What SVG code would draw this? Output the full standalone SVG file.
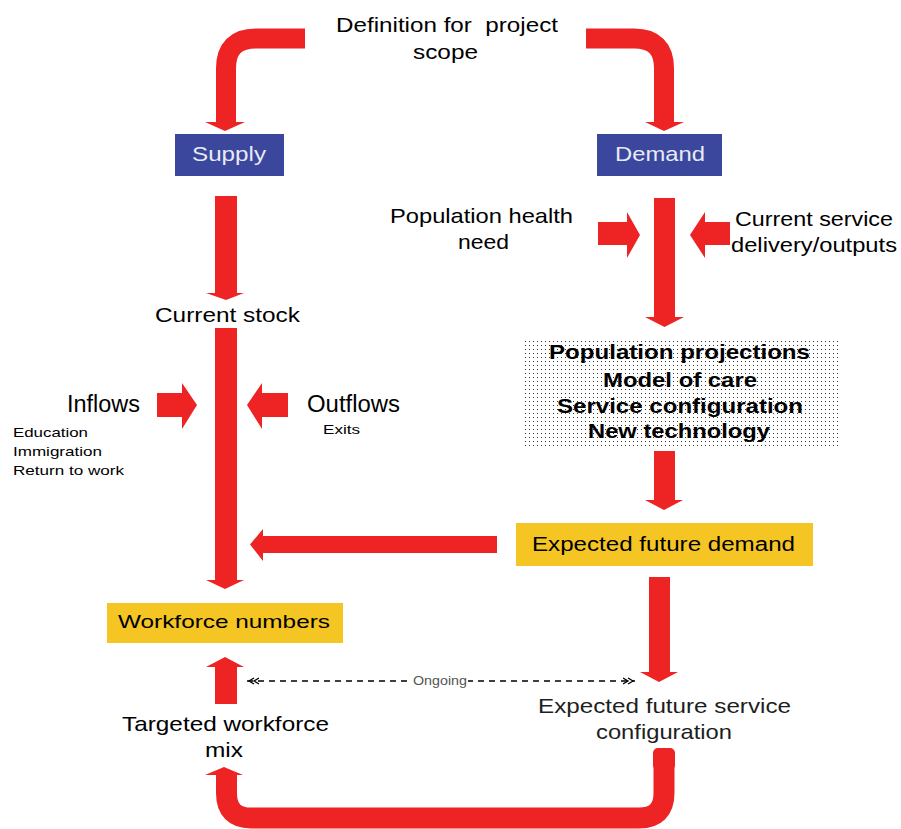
<svg xmlns="http://www.w3.org/2000/svg" width="901" height="829" viewBox="0 0 901 829">
<style>
text{font-family:"Liberation Sans",Arial,sans-serif;fill:#000}
.t{font-size:21px}
.b{font-size:21px;font-weight:bold}
.s{font-size:13px}
.w{fill:#e8eaf4}
.g{fill:#1e1e1e}
.red{fill:#ee2324}
.band{fill:none;stroke:#ee2324;stroke-width:20}
.blue{fill:#3b479c}
.yel{fill:#f5c623}
</style>
<defs>
<pattern id="dots" width="4" height="4" patternUnits="userSpaceOnUse">
<rect width="4" height="4" fill="#fff"/>
<rect x="1" y="1" width="1" height="1" fill="#333"/>
</pattern>
<marker id="dbl" viewBox="0 0 12 8" refX="12" refY="4" markerWidth="12" markerHeight="8" orient="auto-start-reverse" markerUnits="userSpaceOnUse">
<path d="M0,1 L5,4 L0,7 M5,1 L10,4 L5,7" fill="none" stroke="#000" stroke-width="1.3"/>
</marker>
</defs>
<rect width="901" height="829" fill="#fff"/>

<g id="connectors">
<path class="band" d="M305,38.5 L256,38.5 Q226,38.5 226,68.5 L226,122"/>
<polygon class="red" points="205,122 245,122 225,131"/>
<path class="band" d="M586,38.5 L634,38.5 Q664,38.5 664,68.5 L664,122"/>
<polygon class="red" points="645,122 684,122 664,131"/>
<path class="red" d="M215,196 H237 V293 H244 L226,300 L206,293 H215 Z"/>
<path class="red" d="M215,328 H237 V580 H244 L225,589 L206,580 H215 Z"/>
<path class="red" d="M654,198 H675 V317 H684 L664.5,327 L645,317 H654 Z"/>
<path class="red" d="M654,451 H675 V500 H683 L664,510 L645,500 H654 Z"/>
<path class="red" d="M649,577 H670 V672 H678 L659,682 L640,672 H649 Z"/>
<path class="red" d="M215,704 H237 V667 H244 L225,657 L206,667 H215 Z"/>
<path class="red" d="M598,222 H627 V212 L640,235 L627,258 V245 H598 Z"/>
<path class="red" d="M730,222 H705 V212 L690,235 L705,258 V245 H730 Z"/>
<path class="red" d="M157,393 H182 V383 L197,405 L182,429 V417 H157 Z"/>
<path class="red" d="M288,393 H262 V383 L247,405 L262,429 V417 H288 Z"/>
<path class="red" d="M497,536 H263 V529 L250,544.5 L263,561 V553 H497 Z"/>
<path class="band" style="stroke-width:21" d="M664,758 L664,793 Q664,818 639,818 L251,818 Q226.5,818 226.5,793 L226.5,775"/>
<rect class="red" x="653" y="748" width="22" height="22" rx="5"/>
<polygon class="red" points="205,775 243,775 224,767"/>
<line x1="247" y1="681" x2="635" y2="681" stroke="#000" stroke-width="1.4" stroke-dasharray="6,5" marker-start="url(#dbl)" marker-end="url(#dbl)"/>
<rect x="412" y="673" width="56" height="14" fill="#fff"/>
<text x="413" y="685" font-size="13" style="fill:#555" textLength="54" lengthAdjust="spacingAndGlyphs">Ongoing</text>
</g>

<g id="title">
<text class="t" x="336" y="32" style="white-space:pre" textLength="222" lengthAdjust="spacingAndGlyphs">Definition for  project</text>
<text class="t" x="413" y="59" textLength="65" lengthAdjust="spacingAndGlyphs">scope</text>
</g>

<g id="supply">
<rect class="blue" x="175" y="134" width="109" height="42"/>
<text class="t w" x="192" y="161" textLength="74" lengthAdjust="spacingAndGlyphs">Supply</text>
</g>

<g id="demand">
<rect class="blue" x="597" y="134" width="125" height="42"/>
<text class="t w" x="615" y="161" textLength="90" lengthAdjust="spacingAndGlyphs">Demand</text>
</g>

<g id="current-stock">
<text class="t" x="155" y="322" textLength="145" lengthAdjust="spacingAndGlyphs">Current stock</text>
</g>

<g id="population-health">
<text class="t" x="390" y="223" textLength="183" lengthAdjust="spacingAndGlyphs">Population health</text>
<text class="t" x="458" y="249" textLength="51" lengthAdjust="spacingAndGlyphs">need</text>
</g>

<g id="current-service">
<text class="t" x="735" y="226" textLength="158" lengthAdjust="spacingAndGlyphs">Current service</text>
<text class="t" x="731" y="252" textLength="166" lengthAdjust="spacingAndGlyphs">delivery/outputs</text>
</g>

<g id="inflows">
<text class="t" x="67" y="412" style="font-size:23px" textLength="73" lengthAdjust="spacingAndGlyphs">Inflows</text>
<text class="s" x="13" y="437" textLength="75" lengthAdjust="spacingAndGlyphs">Education</text>
<text class="s" x="13" y="456" textLength="89" lengthAdjust="spacingAndGlyphs">Immigration</text>
<text class="s" x="13" y="475" textLength="111" lengthAdjust="spacingAndGlyphs">Return to work</text>
</g>

<g id="outflows">
<text class="t" x="307" y="412" style="font-size:23px" textLength="93" lengthAdjust="spacingAndGlyphs">Outflows</text>
<text class="s" x="323" y="434" textLength="37" lengthAdjust="spacingAndGlyphs">Exits</text>
</g>

<g id="drivers">
<rect x="525" y="338" width="315" height="110" fill="url(#dots)"/>
<text class="b" x="549" y="359" textLength="261" lengthAdjust="spacingAndGlyphs">Population projections</text>
<text class="b" x="603" y="387" textLength="154" lengthAdjust="spacingAndGlyphs">Model of care</text>
<text class="b" x="557" y="413" textLength="246" lengthAdjust="spacingAndGlyphs">Service configuration</text>
<text class="b" x="588" y="438" textLength="182" lengthAdjust="spacingAndGlyphs">New technology</text>
</g>

<g id="expected-future-demand">
<rect class="yel" x="516" y="523" width="297" height="43"/>
<text class="t" x="532" y="551" style="font-size:20px" textLength="263" lengthAdjust="spacingAndGlyphs">Expected future demand</text>
</g>

<g id="workforce-numbers">
<rect class="yel" x="107" y="603" width="236" height="40"/>
<text class="t" x="118" y="628" style="font-size:19px" textLength="212" lengthAdjust="spacingAndGlyphs">Workforce numbers</text>
</g>

<g id="expected-future-service">
<text class="t g" x="538" y="713" textLength="253" lengthAdjust="spacingAndGlyphs">Expected future service</text>
<text class="t g" x="596" y="739" textLength="136" lengthAdjust="spacingAndGlyphs">configuration</text>
</g>

<g id="targeted-mix">
<text class="t" x="122" y="731" textLength="207" lengthAdjust="spacingAndGlyphs">Targeted workforce</text>
<text class="t" x="205" y="757" textLength="38" lengthAdjust="spacingAndGlyphs">mix</text>
</g>
</svg>
